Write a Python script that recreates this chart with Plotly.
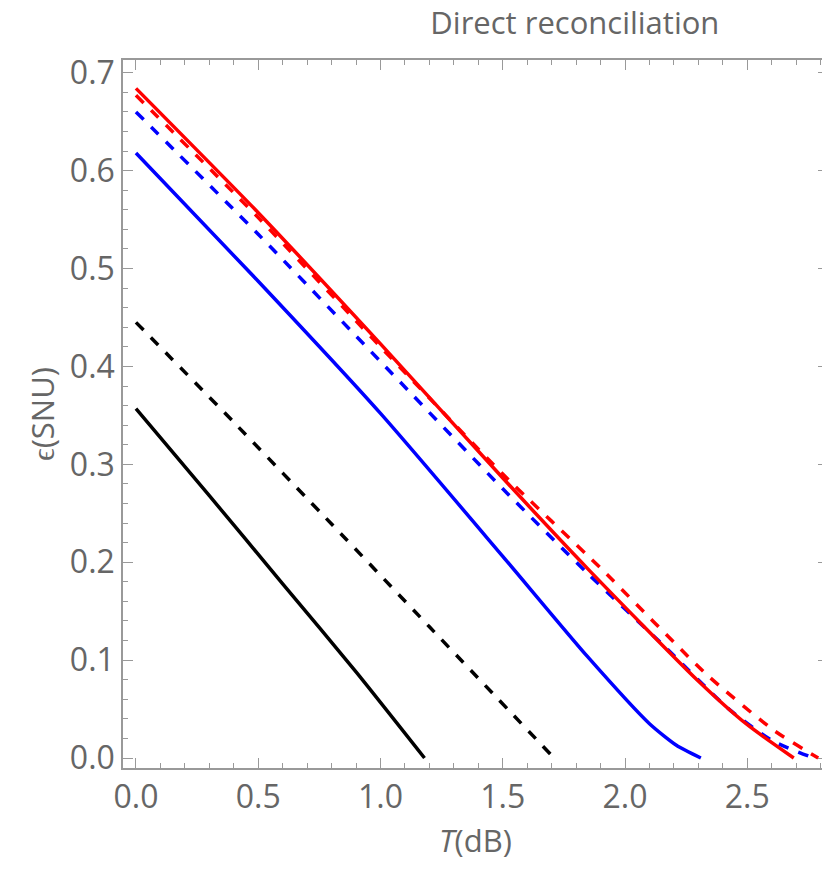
import plotly.graph_objects as go

black_solid_x = [0.0, 0.3, 0.6, 0.9, 1.18]
black_solid_y = [0.357, 0.268, 0.178, 0.088, 0.0]
black_dash_x = [0.0, 0.4, 0.8, 1.2, 1.71]
black_dash_y = [0.445, 0.343, 0.239, 0.134, 0.0]
blue_solid_x = [0.0, 0.5, 1.0, 1.5, 1.845, 2.1, 2.21, 2.31]
blue_solid_y = [0.618, 0.487, 0.352, 0.206, 0.104, 0.035, 0.013, 0.0]
blue_dash_x = [0.0, 0.5, 1.0, 1.5, 1.845, 2.17, 2.42, 2.6, 2.75]
blue_dash_y = [0.660, 0.535, 0.405, 0.275, 0.189, 0.112, 0.051, 0.018, 0.002]
red_solid_x = [0.0, 0.5, 1.0, 1.5, 1.845, 2.294, 2.5, 2.69]
red_solid_y = [0.684, 0.557, 0.423, 0.286, 0.194, 0.080, 0.034, 0.0]
red_dash_x = [0.0, 0.5, 1.0, 1.5, 1.90, 2.335, 2.61, 2.79]
red_dash_y = [0.677, 0.552, 0.420, 0.290, 0.194, 0.085, 0.028, 0.0]

series = [
    (black_solid_x, black_solid_y, "black", "solid"),
    (black_dash_x, black_dash_y, "black", "dash"),
    (blue_solid_x, blue_solid_y, "#0000ff", "solid"),
    (blue_dash_x, blue_dash_y, "#0000ff", "dash"),
    (red_solid_x, red_solid_y, "#ff0000", "solid"),
    (red_dash_x, red_dash_y, "#ff0000", "dash"),
]

fig = go.Figure()
for x, y, c, d in series:
    fig.add_trace(go.Scatter(x=x, y=y, mode="lines",
                             line=dict(color=c, width=3.5, dash=d, shape="spline", smoothing=0.6)))

gray = "#666666"
tc = "#999999"
axcommon = dict(showgrid=False, zeroline=False, showline=True, linecolor=tc, linewidth=1.5,
                mirror="allticks", ticks="inside", ticklen=10, tickcolor=tc, tickformat=".1f",
                tickfont=dict(family="Open Sans", size=32, color=gray))
fig.update_xaxes(range=[-0.053, 2.83], tick0=0, dtick=0.5,
                 minor=dict(dtick=0.1, tick0=0, ticks="inside", ticklen=5, tickcolor=tc, showgrid=False),
                 title=dict(text="<i>T</i>(dB)", font=dict(family="Open Sans", size=31, color=gray), standoff=14), **axcommon)
fig.update_yaxes(range=[-0.0102, 0.713], tick0=0, dtick=0.1,
                 minor=dict(dtick=0.02, tick0=0, ticks="inside", ticklen=5, tickcolor=tc, showgrid=False),
                 title=dict(text="ϵ(SNU)", font=dict(family="Open Sans", size=31, color=gray), standoff=6), **axcommon)
fig.update_layout(width=830, height=874, margin=dict(l=115, r=8, t=52, b=114),
                  plot_bgcolor="white", paper_bgcolor="white", showlegend=False,
                  title=dict(text="Direct reconciliation", x=0.683, xanchor="center", y=0.995, yanchor="top",
                             font=dict(family="Open Sans", size=31, color=gray)))
fig.write_html("out.html")
